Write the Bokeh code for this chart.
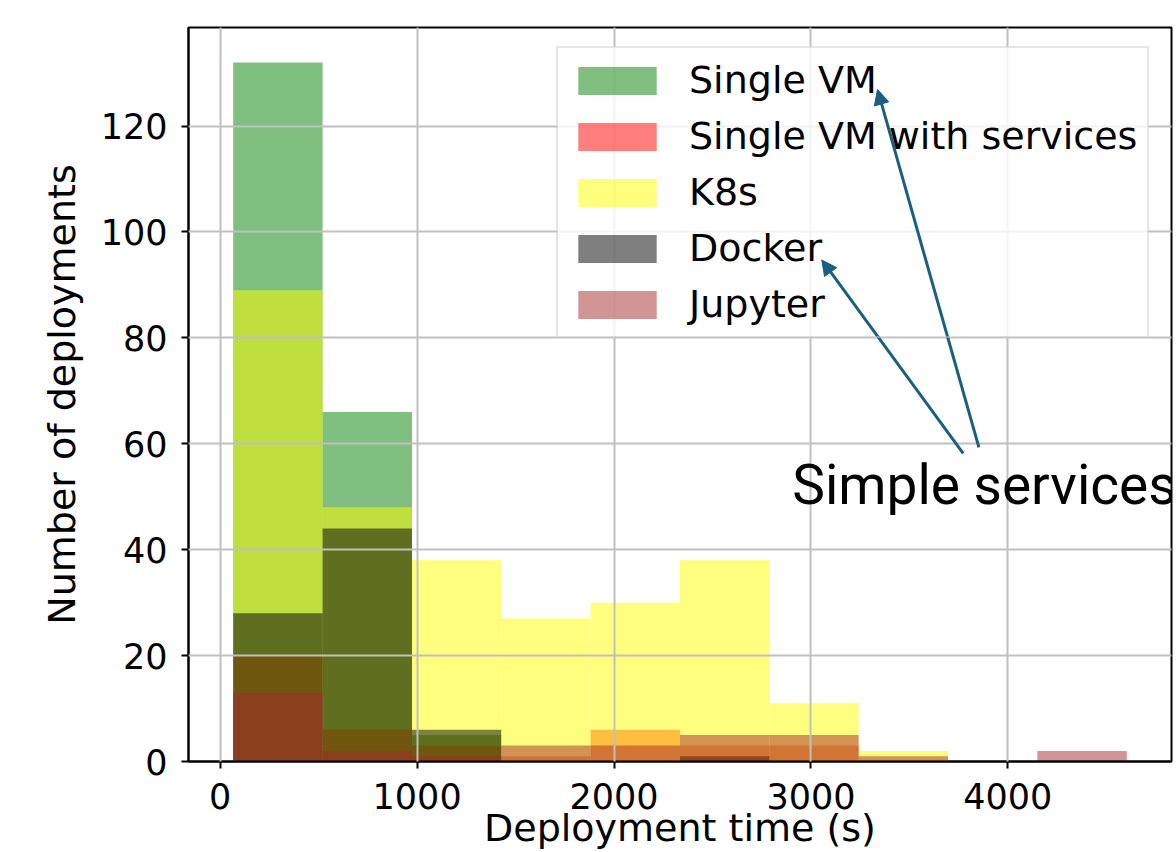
from bokeh.plotting import figure
from bokeh.models import (Range1d, FixedTicker, Legend, LegendItem, Label,
                          Arrow, NormalHead, ColumnDataSource, BoxAnnotation)
from bokeh.embed import file_html
from bokeh.resources import INLINE

# ---- data ----
bin_edges = [66, 520, 974, 1427, 1881, 2335, 2789, 3242, 3696, 4150, 4604]
series_names = ["Single VM", "Single VM with services", "K8s", "Docker", "Jupyter"]
series_colors = ["#008000", "#ff0000", "#ffff00", "#000000", "#a52a2a"]
single_vm = [132, 66, 5, 0, 0, 0, 0, 0, 0, 0]
single_vm_services = [20, 6, 3, 1, 6, 3, 3, 0, 0, 0]
k8s = [89, 48, 38, 27, 30, 38, 11, 2, 0, 0]
docker = [28, 44, 6, 0, 0, 1, 0, 0, 0, 0]
jupyter = [13, 2, 1, 3, 3, 5, 5, 1, 0, 2]
x_ticks = [0, 1000, 2000, 3000, 4000]
y_ticks = [0, 20, 40, 60, 80, 100, 120]
annotation_text = "Simple services"

counts = [single_vm, single_vm_services, k8s, docker, jupyter]

p = figure(width=1176, height=852, output_backend="svg", toolbar_location=None,
           x_range=Range1d(-161, 4831), y_range=Range1d(0, 138.6),
           min_border_left=188, min_border_right=5, min_border_top=27,
           min_border_bottom=91)
p.background_fill_color = "white"
p.border_fill_color = "white"
p.outline_line_color = "black"
p.outline_line_width = 2

items = []
for name, color, c in zip(series_names, series_colors, counts):
    src = ColumnDataSource(dict(left=bin_edges[:-1], right=bin_edges[1:],
                                top=c, bottom=[0] * len(c)))
    r = p.quad(left="left", right="right", top="top", bottom="bottom", source=src,
               fill_color=color, fill_alpha=0.5, line_color=None)
    items.append(LegendItem(label=name, renderers=[r]))

# axes
for ax in (p.xaxis[0], p.yaxis[0]):
    ax.axis_line_color = "black"
    ax.axis_line_width = 2
    ax.major_tick_line_color = "black"
    ax.major_tick_line_width = 2
    ax.major_tick_out = 7
    ax.major_tick_in = 0
    ax.minor_tick_line_color = None
    ax.major_label_text_font = "DejaVu Sans"
    ax.major_label_text_font_size = "35px"
    ax.major_label_text_color = "black"
    ax.axis_label_text_font = "DejaVu Sans"
    ax.axis_label_text_font_size = "38px"
    ax.axis_label_text_font_style = "normal"
    ax.axis_label_text_color = "black"

p.xaxis.ticker = FixedTicker(ticks=x_ticks)
p.yaxis.ticker = FixedTicker(ticks=y_ticks)
p.xaxis.major_label_standoff = 14
p.yaxis.major_label_standoff = 14
p.yaxis.axis_label = "Number of deployments"
p.yaxis.axis_label_standoff = 14
p.xaxis.axis_label = "Deployment time (s)"
p.xaxis.axis_label_standoff = -6

# grid above bars
for g in (p.xgrid[0], p.ygrid[0]):
    g.grid_line_color = "#c0c0c0"
    g.grid_line_width = 2
    g.level = "guide"
p.xgrid.ticker = FixedTicker(ticks=x_ticks)
p.ygrid.ticker = FixedTicker(ticks=y_ticks)

# semi-transparent backing of the legend box (drawn below the arrows)
p.add_layout(BoxAnnotation(left=1713, right=4714, top=135.0, bottom=80.25,
                           fill_color="white", fill_alpha=0.8, line_color=None))

legend = Legend(items=items, location=(368, 423))
legend.label_text_font = "DejaVu Sans"
legend.label_text_font_size = "38px"
legend.label_text_color = "black"
legend.glyph_width = 98
legend.glyph_height = 35
legend.label_standoff = 23
legend.spacing = 12
legend.padding = 10
legend.margin = 0
legend.border_line_color = "#cccccc"
legend.border_line_width = 2
legend.background_fill_alpha = 0.0
p.add_layout(legend)

# annotation
arrow_color = "#1a5f7f"
for xs, ys, xe, ye in [(3853, 59.3, 3338, 126.9), (3773, 58.2, 3055, 94.7)]:
    p.add_layout(Arrow(x_start=xs, y_start=ys, x_end=xe, y_end=ye,
                       line_color=arrow_color, line_width=3,
                       end=NormalHead(size=15, fill_color=arrow_color,
                                      line_color=arrow_color, line_width=1)))
p.add_layout(Label(x=2905, y=52.3, text=annotation_text, text_font="Roboto",
                   text_font_size="55px", text_color="black",
                   text_baseline="alphabetic"))

open("out.html", "w").write(file_html(p, INLINE))
